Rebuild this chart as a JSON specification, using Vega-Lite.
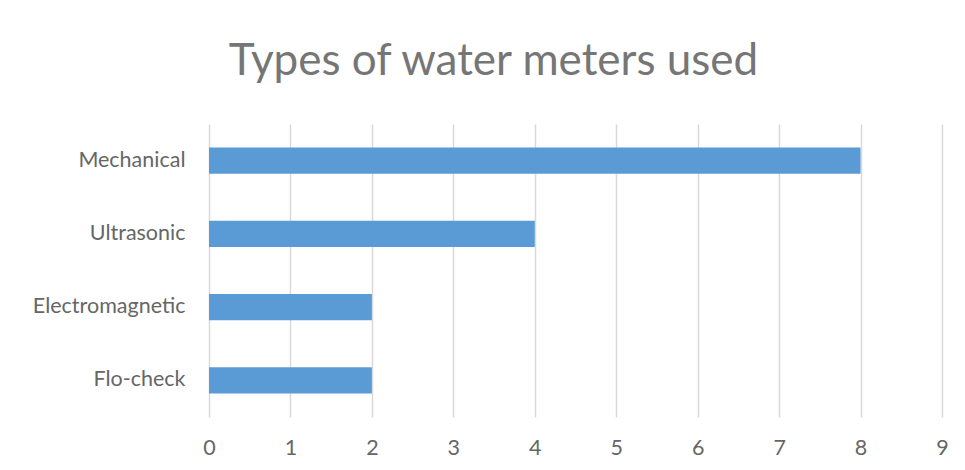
{
  "$schema": "https://vega.github.io/schema/vega-lite/v6.json",
  "width": 733,
  "height": 293,
  "autosize": "none",
  "padding": {"left": 209, "top": 124, "right": 23, "bottom": 53},
  "background": "white",
  "title": {
    "text": "Types of water meters used",
    "font": "Lato",
    "fontSize": 44,
    "fontWeight": "normal",
    "color": "#767676",
    "anchor": "middle",
    "dx": -82,
    "offset": 40
  },
  "data": {
    "values": [
      {"type": "Mechanical", "count": 8},
      {"type": "Ultrasonic", "count": 4},
      {"type": "Electromagnetic", "count": 2},
      {"type": "Flo-check", "count": 2}
    ]
  },
  "mark": {"type": "bar", "color": "#5B9BD5"},
  "encoding": {
    "y": {
      "field": "type",
      "type": "nominal",
      "sort": null,
      "scale": {"paddingInner": 0.64, "paddingOuter": 0.32},
      "axis": {
        "title": null,
        "domain": false,
        "ticks": false,
        "labelPadding": 24,
        "labelFont": "Lato",
        "labelFontSize": 21.5,
        "labelColor": "#666666"
      }
    },
    "x": {
      "field": "count",
      "type": "quantitative",
      "scale": {"domain": [0, 9], "nice": false},
      "axis": {
        "title": null,
        "values": [0, 1, 2, 3, 4, 5, 6, 7, 8, 9],
        "domain": false,
        "ticks": false,
        "grid": true,
        "gridColor": "#D9D9D9",
        "gridWidth": 1.5,
        "labelFlush": false,
        "labelPadding": 20,
        "labelFont": "Lato",
        "labelFontSize": 21.5,
        "labelColor": "#666666"
      }
    }
  },
  "config": {"view": {"stroke": null}}
}
